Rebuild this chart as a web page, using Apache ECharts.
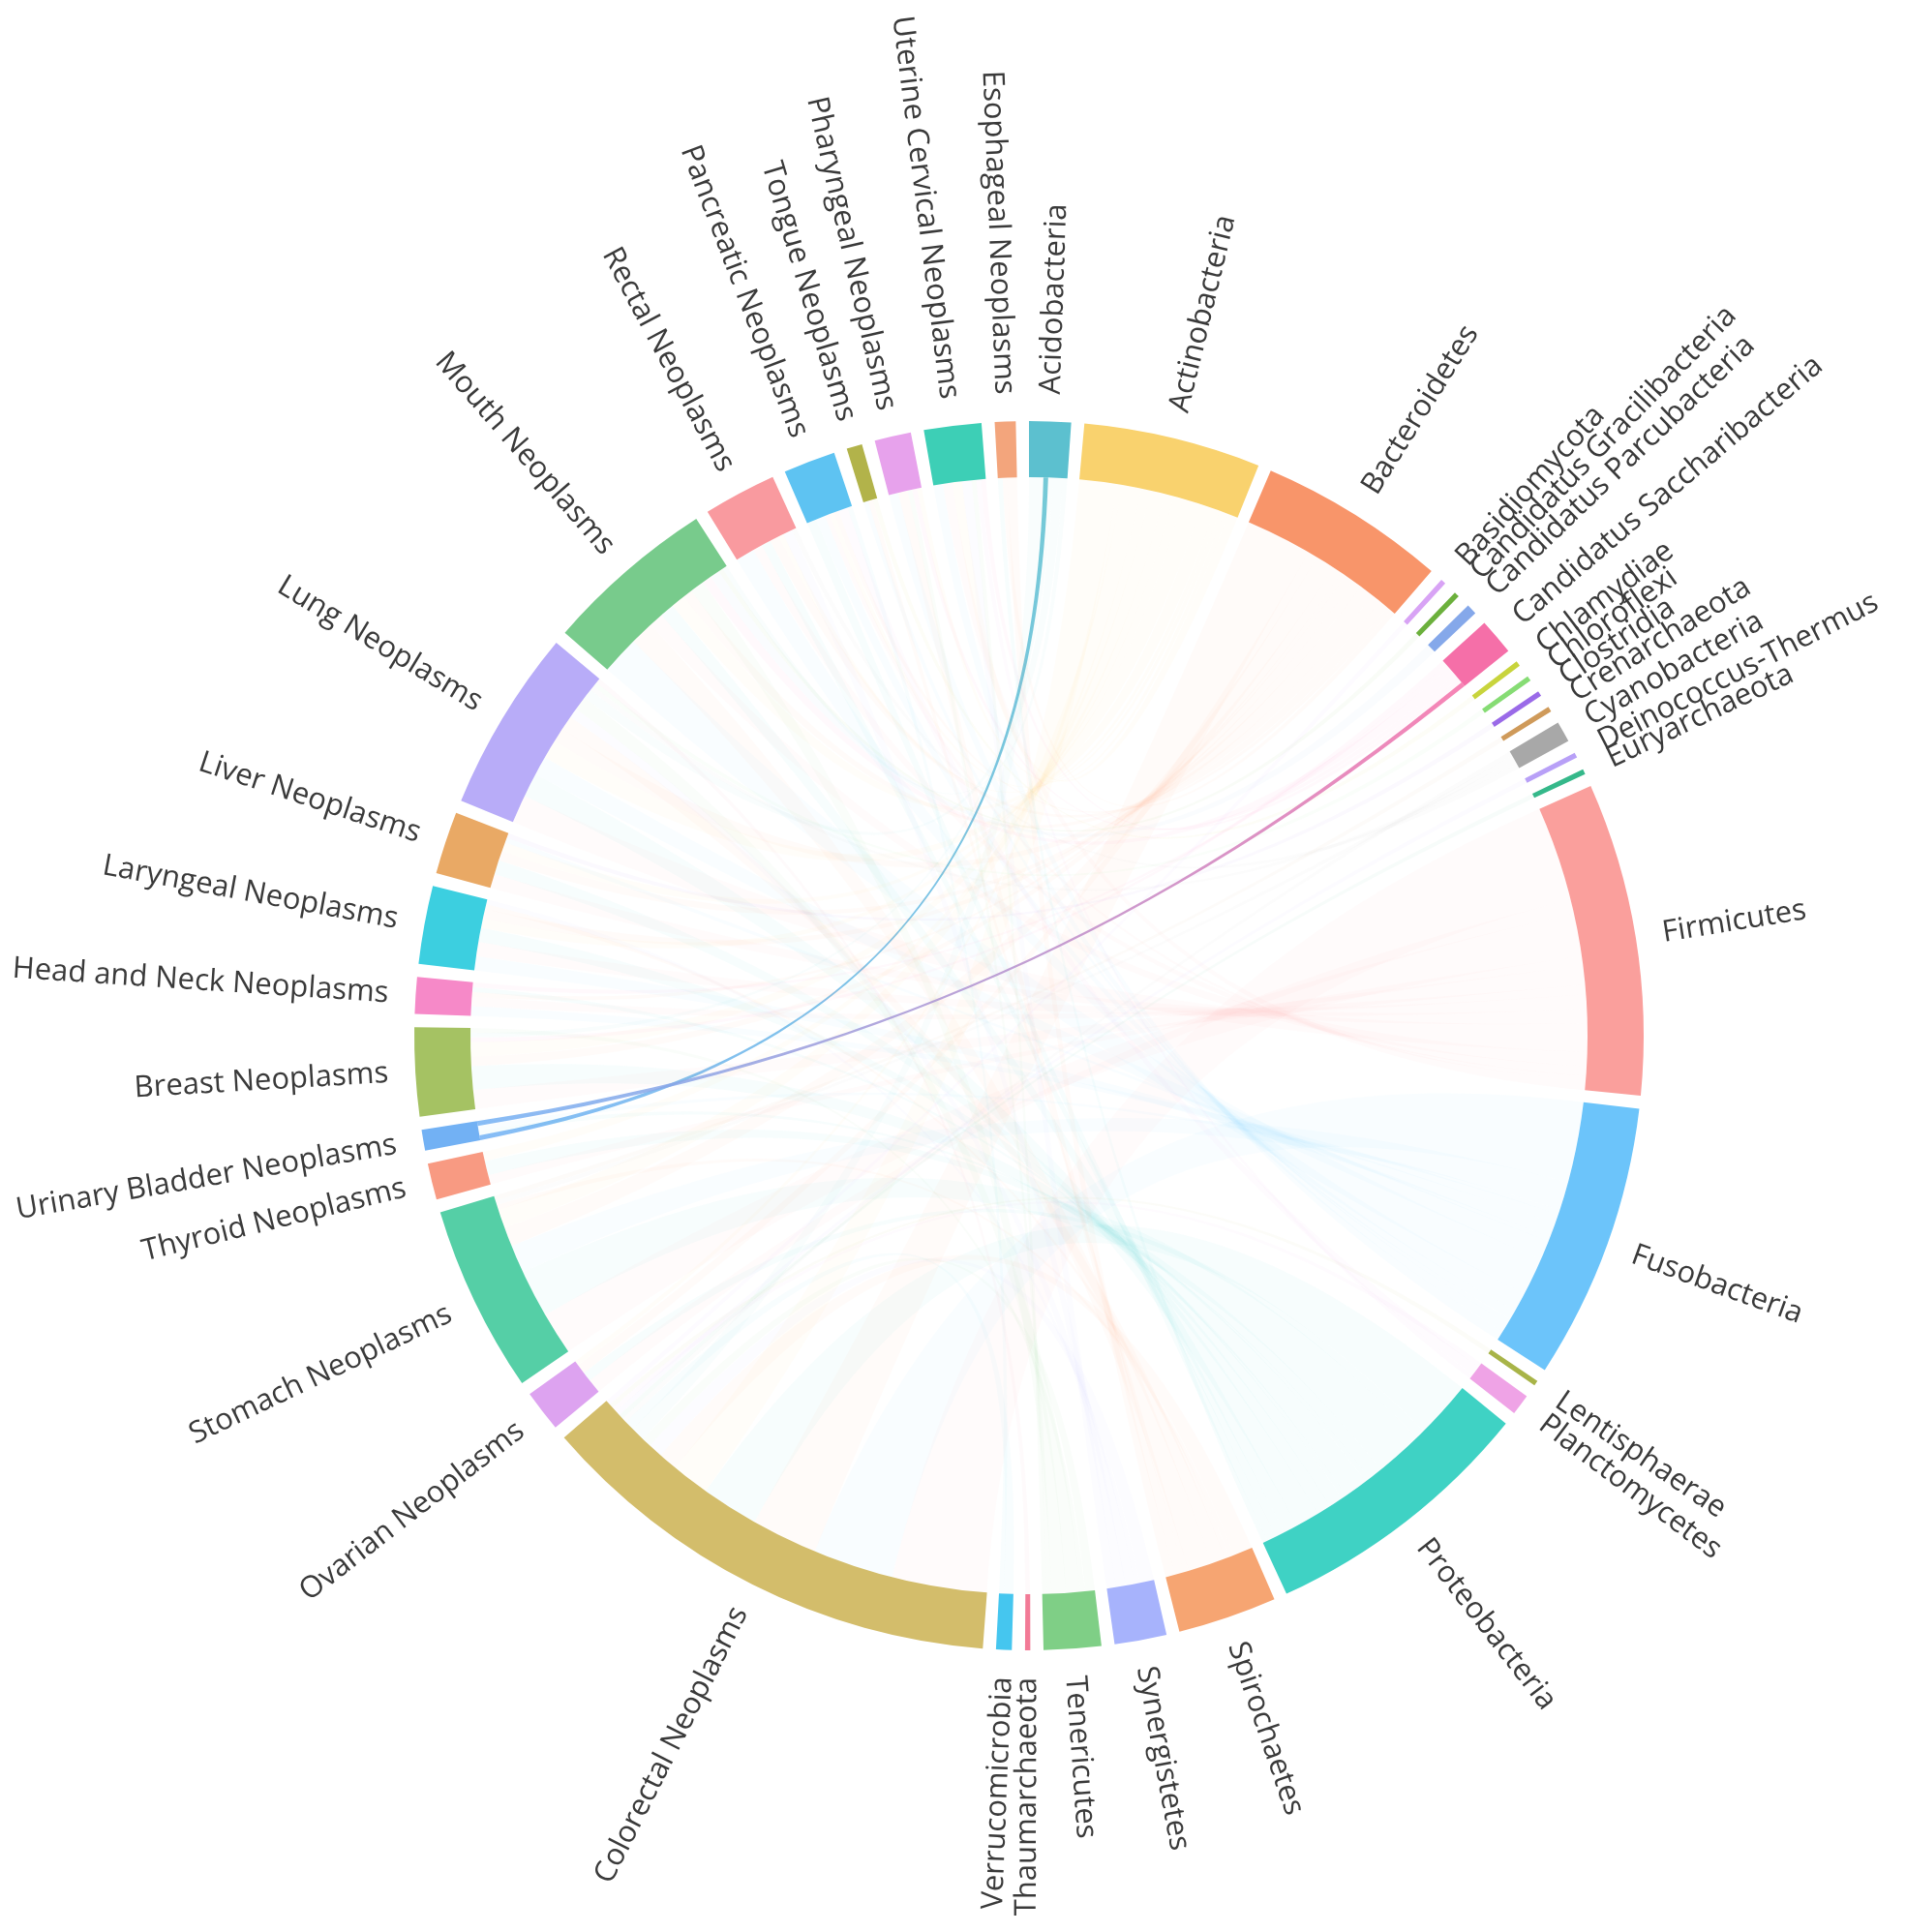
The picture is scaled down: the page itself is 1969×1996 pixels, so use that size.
<!DOCTYPE html>
<html>
	<head>
		<meta charset="UTF-8">
		<title></title>
		<style>html,body{margin:0;padding:0;background:#fff}</style>
	</head>
	<body>
		<div id="main" style="width:1969px;height:1996px"></div>
	</body>
</html>
<script src="https://cdn.jsdelivr.net/npm/echarts@6.0.0/dist/echarts.min.js"></script>
<script type="text/javascript">
	// phyla, clockwise from the top
	var bacteria = ['Acidobacteria', 'Actinobacteria', 'Bacteroidetes', 'Basidiomycota', 'Candidatus Gracilibacteria',
		'Candidatus Parcubacteria', 'Candidatus Saccharibacteria', 'Chlamydiae', 'Chloroflexi', 'Clostridia',
		'Crenarchaeota', 'Cyanobacteria', 'Deinococcus-Thermus', 'Euryarchaeota', 'Firmicutes', 'Fusobacteria',
		'Lentisphaerae', 'Planctomycetes', 'Proteobacteria', 'Spirochaetes', 'Synergistetes', 'Tenericutes',
		'Thaumarchaeota', 'Verrucomicrobia'];
	var bacteriaValues = [8, 34, 36, 1, 1, 2, 7, 1, 1, 1, 1, 4, 1, 1, 60, 53, 1, 4, 53, 19, 10, 11, 1, 3];

	// cancers, clockwise from the bottom
	var neoplasms = ['Colorectal Neoplasms', 'Ovarian Neoplasms', 'Stomach Neoplasms', 'Thyroid Neoplasms',
		'Urinary Bladder Neoplasms', 'Breast Neoplasms', 'Head and Neck Neoplasms', 'Laryngeal Neoplasms',
		'Liver Neoplasms', 'Lung Neoplasms', 'Mouth Neoplasms', 'Rectal Neoplasms', 'Pancreatic Neoplasms',
		'Tongue Neoplasms', 'Pharyngeal Neoplasms', 'Uterine Cervical Neoplasms', 'Esophageal Neoplasms'];
	var neoplasmValues = [91, 8, 36, 7, 4, 17, 7, 15, 12, 35, 33, 14, 10, 3, 7, 11, 4];

	// [phylum, cancer, associations]
	var links = [
		['Firmicutes', 'Colorectal Neoplasms', 20], ['Fusobacteria', 'Colorectal Neoplasms', 17],
		['Bacteroidetes', 'Colorectal Neoplasms', 14], ['Proteobacteria', 'Colorectal Neoplasms', 12],
		['Actinobacteria', 'Colorectal Neoplasms', 8], ['Spirochaetes', 'Colorectal Neoplasms', 4],
		['Synergistetes', 'Colorectal Neoplasms', 3], ['Tenericutes', 'Colorectal Neoplasms', 2],
		['Acidobacteria', 'Colorectal Neoplasms', 3], ['Verrucomicrobia', 'Colorectal Neoplasms', 2],
		['Cyanobacteria', 'Colorectal Neoplasms', 1], ['Euryarchaeota', 'Colorectal Neoplasms', 1],
		['Deinococcus-Thermus', 'Colorectal Neoplasms', 1], ['Planctomycetes', 'Colorectal Neoplasms', 1],
		['Lentisphaerae', 'Colorectal Neoplasms', 1], ['Basidiomycota', 'Colorectal Neoplasms', 1],
		['Acidobacteria', 'Urinary Bladder Neoplasms', 1],
		['Firmicutes', 'Ovarian Neoplasms', 3], ['Proteobacteria', 'Ovarian Neoplasms', 2],
		['Bacteroidetes', 'Ovarian Neoplasms', 2], ['Actinobacteria', 'Ovarian Neoplasms', 1],
		['Firmicutes', 'Stomach Neoplasms', 9], ['Proteobacteria', 'Stomach Neoplasms', 10],
		['Fusobacteria', 'Stomach Neoplasms', 6], ['Bacteroidetes', 'Stomach Neoplasms', 4],
		['Actinobacteria', 'Stomach Neoplasms', 4], ['Spirochaetes', 'Stomach Neoplasms', 1],
		['Cyanobacteria', 'Stomach Neoplasms', 1], ['Crenarchaeota', 'Stomach Neoplasms', 1],
		['Firmicutes', 'Thyroid Neoplasms', 2], ['Proteobacteria', 'Thyroid Neoplasms', 3],
		['Actinobacteria', 'Thyroid Neoplasms', 2],
		['Proteobacteria', 'Urinary Bladder Neoplasms', 1], ['Fusobacteria', 'Urinary Bladder Neoplasms', 1],
		['Firmicutes', 'Breast Neoplasms', 4], ['Proteobacteria', 'Breast Neoplasms', 5],
		['Bacteroidetes', 'Breast Neoplasms', 2], ['Actinobacteria', 'Breast Neoplasms', 3],
		['Candidatus Saccharibacteria', 'Breast Neoplasms', 1], ['Acidobacteria', 'Breast Neoplasms', 1],
		['Tenericutes', 'Breast Neoplasms', 1],
		['Fusobacteria', 'Head and Neck Neoplasms', 2], ['Firmicutes', 'Head and Neck Neoplasms', 2],
		['Bacteroidetes', 'Head and Neck Neoplasms', 1], ['Proteobacteria', 'Head and Neck Neoplasms', 1],
		['Candidatus Saccharibacteria', 'Head and Neck Neoplasms', 1],
		['Fusobacteria', 'Laryngeal Neoplasms', 3], ['Firmicutes', 'Laryngeal Neoplasms', 3],
		['Proteobacteria', 'Laryngeal Neoplasms', 3], ['Actinobacteria', 'Laryngeal Neoplasms', 2],
		['Bacteroidetes', 'Laryngeal Neoplasms', 2], ['Spirochaetes', 'Laryngeal Neoplasms', 1],
		['Synergistetes', 'Laryngeal Neoplasms', 1],
		['Firmicutes', 'Liver Neoplasms', 3], ['Proteobacteria', 'Liver Neoplasms', 3],
		['Bacteroidetes', 'Liver Neoplasms', 2], ['Actinobacteria', 'Liver Neoplasms', 2],
		['Fusobacteria', 'Liver Neoplasms', 1], ['Clostridia', 'Liver Neoplasms', 1],
		['Firmicutes', 'Lung Neoplasms', 6], ['Proteobacteria', 'Lung Neoplasms', 5],
		['Fusobacteria', 'Lung Neoplasms', 4], ['Actinobacteria', 'Lung Neoplasms', 4],
		['Bacteroidetes', 'Lung Neoplasms', 3], ['Spirochaetes', 'Lung Neoplasms', 3],
		['Synergistetes', 'Lung Neoplasms', 2], ['Tenericutes', 'Lung Neoplasms', 3],
		['Acidobacteria', 'Lung Neoplasms', 2], ['Cyanobacteria', 'Lung Neoplasms', 1],
		['Chloroflexi', 'Lung Neoplasms', 1], ['Thaumarchaeota', 'Lung Neoplasms', 1],
		['Fusobacteria', 'Mouth Neoplasms', 8], ['Spirochaetes', 'Mouth Neoplasms', 5],
		['Firmicutes', 'Mouth Neoplasms', 3], ['Proteobacteria', 'Mouth Neoplasms', 3],
		['Actinobacteria', 'Mouth Neoplasms', 3], ['Bacteroidetes', 'Mouth Neoplasms', 2],
		['Tenericutes', 'Mouth Neoplasms', 3], ['Candidatus Saccharibacteria', 'Mouth Neoplasms', 2],
		['Candidatus Parcubacteria', 'Mouth Neoplasms', 2], ['Candidatus Gracilibacteria', 'Mouth Neoplasms', 1],
		['Acidobacteria', 'Mouth Neoplasms', 1],
		['Fusobacteria', 'Rectal Neoplasms', 4], ['Firmicutes', 'Rectal Neoplasms', 2],
		['Proteobacteria', 'Rectal Neoplasms', 2], ['Bacteroidetes', 'Rectal Neoplasms', 2],
		['Actinobacteria', 'Rectal Neoplasms', 1], ['Synergistetes', 'Rectal Neoplasms', 2],
		['Cyanobacteria', 'Rectal Neoplasms', 1],
		['Proteobacteria', 'Pancreatic Neoplasms', 2], ['Fusobacteria', 'Pancreatic Neoplasms', 2],
		['Firmicutes', 'Pancreatic Neoplasms', 1], ['Actinobacteria', 'Pancreatic Neoplasms', 1],
		['Bacteroidetes', 'Pancreatic Neoplasms', 1], ['Planctomycetes', 'Pancreatic Neoplasms', 2],
		['Verrucomicrobia', 'Pancreatic Neoplasms', 1],
		['Fusobacteria', 'Tongue Neoplasms', 1], ['Spirochaetes', 'Tongue Neoplasms', 1],
		['Chlamydiae', 'Tongue Neoplasms', 1],
		['Fusobacteria', 'Pharyngeal Neoplasms', 2], ['Spirochaetes', 'Pharyngeal Neoplasms', 2],
		['Tenericutes', 'Pharyngeal Neoplasms', 1], ['Candidatus Saccharibacteria', 'Pharyngeal Neoplasms', 1],
		['Actinobacteria', 'Pharyngeal Neoplasms', 1],
		['Fusobacteria', 'Uterine Cervical Neoplasms', 2], ['Firmicutes', 'Uterine Cervical Neoplasms', 2],
		['Actinobacteria', 'Uterine Cervical Neoplasms', 2], ['Synergistetes', 'Uterine Cervical Neoplasms', 2],
		['Tenericutes', 'Uterine Cervical Neoplasms', 1], ['Planctomycetes', 'Uterine Cervical Neoplasms', 1],
		['Candidatus Saccharibacteria', 'Uterine Cervical Neoplasms', 1],
		['Proteobacteria', 'Esophageal Neoplasms', 1], ['Bacteroidetes', 'Esophageal Neoplasms', 1],
		['Spirochaetes', 'Esophageal Neoplasms', 2],
		['Candidatus Saccharibacteria', 'Urinary Bladder Neoplasms', 1]
	];
	// the two links drawn strongly in the picture
	var strongLinks = [['Acidobacteria', 'Urinary Bladder Neoplasms'], ['Candidatus Saccharibacteria', 'Urinary Bladder Neoplasms']];

	var bacteriaColors = ['#5cc0cf', '#f9d26e', '#f8956a', '#d8a3f5', '#6bb03c', '#85a8ea', '#f56fa8', '#c8d43c',
		'#86dc74', '#9a6ae8', '#cf9a5a', '#a8a8a8', '#b8a0f7', '#35b88a', '#fa9f9c', '#6cc4fa', '#a8b448',
		'#efa3e6', '#3fd2c4', '#f6a572', '#a7b3fc', '#7fcf86', '#f27a96', '#45c6ef'];
	var neoplasmColors = ['#d3bd6b', '#dda3f0', '#55cfa6', '#f89a82', '#72b1f4', '#a5c263', '#f689c8', '#3ccfe0',
		'#e9a965', '#b8acf8', '#78cb8c', '#f99a9f', '#5ec3f2', '#b2b34a', '#e7a2ec', '#3dcfb6', '#f3a57c'];

	var myChart = echarts.init(document.querySelector('#main'));

	var gapValue = 2.5; // empty spacer between two arcs
	var names = bacteria.concat(neoplasms);
	var values = bacteriaValues.concat(neoplasmValues);
	var colors = bacteriaColors.concat(neoplasmColors);

	var nodes = [];
	var slices = [];
	for(var i = 0; i < names.length; i++) {
		nodes.push({ name: names[i], value: values[i], itemStyle: { color: colors[i] } });
		nodes.push({ name: 'gap' + i, value: gapValue, itemStyle: { color: 'rgba(0,0,0,0)' } });
		slices.push({ name: names[i], value: values[i] });
		slices.push({ name: 'gap' + i, value: gapValue, label: { show: false } });
	}

	var chordLinks = links.map(function(l) {
		var item = { source: l[0], target: l[1], value: l[2] };
		strongLinks.forEach(function(s) {
			if(s[0] === l[0] && s[1] === l[1]) {
				item.lineStyle = { color: 'gradient', opacity: 0.85 };
			}
		});
		return item;
	});

	var center = [1063, 1070];
	var radius = [577, 635];

	option = {
		animation: false,
		backgroundColor: '#fff',
		series: [{
			type: 'chord',
			center: center,
			radius: radius,
			startAngle: 90,
			clockwise: true,
			padAngle: 0,
			minAngle: 0,
			label: { show: false },
			itemStyle: { borderWidth: 0, borderRadius: 0 },
			lineStyle: { color: 'source', opacity: 0.04 },
			data: nodes,
			links: chordLinks
		}, {
			type: 'pie',
			silent: true,
			center: center,
			radius: radius,
			startAngle: 90,
			clockwise: true,
			avoidLabelOverlap: false,
			minShowLabelAngle: 0,
			labelLayout: { hideOverlap: false },
			itemStyle: { color: 'rgba(0,0,0,0)' },
			label: {
				show: true,
				position: 'outside',
				rotate: 'radial',
				color: '#3a3a3a',
				fontSize: 31,
				fontFamily: 'Open Sans',
				distanceToLabelLine: 0
			},
			labelLine: { show: false, length: 28, length2: 0 },
			data: slices
		}]
	};

	myChart.setOption(option);
</script>
